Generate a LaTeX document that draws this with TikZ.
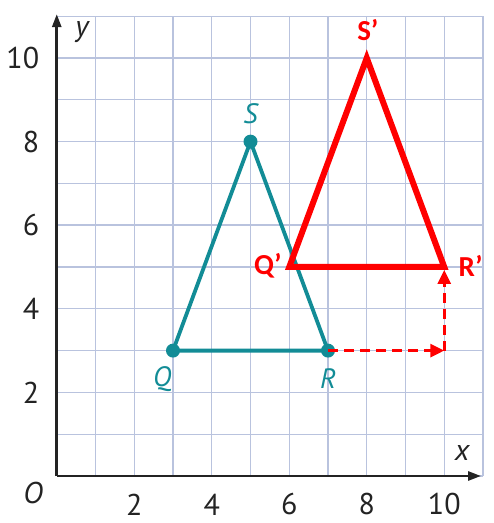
\documentclass[tikz,border=0pt]{standalone}
\usepackage{fontspec}
\setmainfont{PT Sans}
\newfontfamily\labfont{Carlito}
\usetikzlibrary{arrows.meta}
\definecolor{teal1}{RGB}{18,140,150}
\definecolor{gridc}{RGB}{185,195,222}
\definecolor{axc}{RGB}{35,35,35}
\begin{document}
\begin{tikzpicture}[x=38.75pt,y=41.8pt,
  gridline/.style={draw=gridc, line width=1.4pt},
  axis/.style={draw=axc, line width=2.6pt, -{Triangle[length=13pt,width=9pt]}},
  ticklab/.style={text=axc, font=\fontsize{30}{30}\selectfont, inner sep=0pt},
  axlab/.style={text=axc, font=\fontsize{30}{30}\selectfont\itshape, inner sep=0pt},
  dot/.style={circle, fill=teal1, minimum size=14pt, inner sep=0pt},
  vtx/.style={inner sep=0pt, minimum size=0pt},
  orig/.style={draw=teal1, line width=3.8pt, line join=round},
  imagetri/.style={draw=red, line width=6pt, line join=miter},
  origlab/.style={text=teal1, font=\fontsize{28}{28}\selectfont\itshape, inner sep=0pt},
  imglab/.style={text=red, font=\labfont\bfseries\fontsize{29}{29}\selectfont, inner sep=0pt},
  transl/.style={draw=red, line width=3pt, dash pattern=on 10pt off 6pt, -{Triangle[length=14pt,width=13pt]}}
]
\useasboundingbox (-56.75pt,-47pt) rectangle (437.25pt,476pt);
% grid
\draw[gridline, xstep=38.75pt, ystep=41.8pt] (0,0) grid (11,11);
% axes
\coordinate (O) at (0,0);
\coordinate (xend) at (10.95,0);
\coordinate (yend) at (0,11.05);
\draw[axis] (O) -- (xend);
\draw[axis] (O) -- (yend);
% tick labels
\foreach \v in {2,4,6,8,10} {
  \node[ticklab] (xl\v) at (\v,-0.68) {\v};
  \node[ticklab, anchor=east] (yl\v) at (-0.45,\v) {\v};
}
\node[axlab] (olab) at (-0.61,-0.41) {O};
\node[axlab] (ylab) at (0.65,10.62) {y};
\node[axlab] (xlab) at (10.46,0.55) {x};
% original triangle
\node[vtx] (S) at (5,8) {};
\node[vtx] (Q) at (3,3) {};
\node[vtx] (R) at (7,3) {};
\draw[orig] (S.center) -- (Q.center) -- (R.center) -- cycle;
\node[dot] (Sd) at (S) {};
\node[dot] (Qd) at (Q) {};
\node[dot] (Rd) at (R) {};
\node[origlab] (Sl) at (5,8.66) {S};
\node[origlab] (Ql) at (2.72,2.32) {Q};
\node[origlab] (Rl) at (7.0,2.32) {R};
% image triangle
\node[vtx] (Sp) at (8,10) {};
\node[vtx] (Qp) at (6,5) {};
\node[vtx] (Rp) at (10,5) {};
\draw[imagetri] (Sp.center) -- (Qp.center) -- (Rp.center) -- cycle;
\node[imglab] (Spl) at (8.03,10.67) {S’};
\node[imglab] (Qpl) at (5.45,5.02) {Q’};
\node[imglab] (Rpl) at (10.68,5.02) {R’};
% translation arrows
\coordinate (C) at (10,3);
\draw[transl] (R.center) -- (C);
\draw[transl, shorten >=3pt] (C) -- (Rp.center);
\end{tikzpicture}
\end{document}
